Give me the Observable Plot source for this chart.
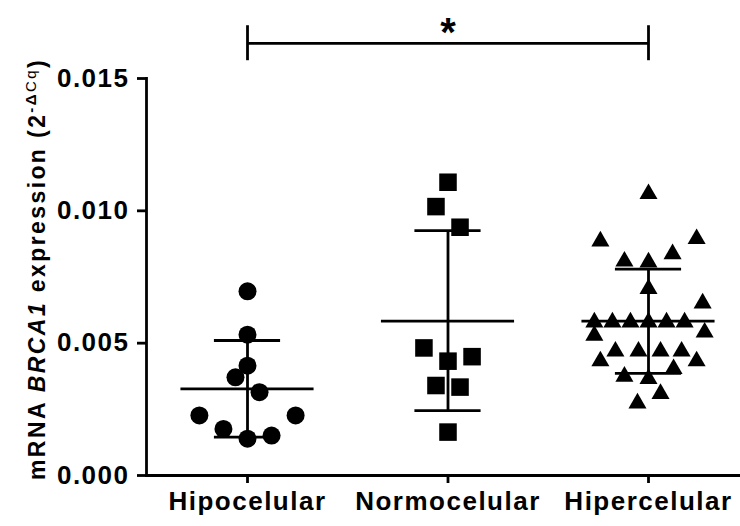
<!DOCTYPE html>
<html><head><meta charset="utf-8">
<script src="https://cdn.jsdelivr.net/npm/d3@7"></script>
<script src="https://cdn.jsdelivr.net/npm/@observablehq/plot@0.6"></script>
<style>
body{margin:0;background:#fff}
#chart svg{display:block}
</style></head><body><div id="chart"></div>
<script>
// ---- data ----
const categories = ["Hipocelular", "Normocelular", "Hipercelular"];
const hipoValues = [0.00696, 0.00532, 0.00415, 0.00371, 0.00315, 0.00227, 0.00227, 0.00176, 0.00139, 0.00151];
const hipoSpread = [0, 0, 0, -0.06, 0.06, -0.24, 0.24, -0.12, 0, 0.12];
const normoValues = [0.01108, 0.01016, 0.00938, 0.00482, 0.00449, 0.00432, 0.00340, 0.00334, 0.00164];
const normoSpread = [0, -0.06, 0.06, -0.12, 0.12, 0, -0.06, 0.06, 0];
const hiperValues = [0.01064, 0.00885, 0.00894, 0.00837, 0.00809, 0.00806, 0.00705, 0.00651,
  0.00579, 0.00579, 0.00579, 0.00579, 0.00579, 0.00579, 0.00541, 0.00529,
  0.00469, 0.00469, 0.00469, 0.00469, 0.00432, 0.00432, 0.00403, 0.00374, 0.00365, 0.00309, 0.00273];
const hiperSpread = [0, -0.24, 0.24, 0.12, -0.12, 0, 0, 0.27,
  -0.27, -0.18, -0.09, 0, 0.09, 0.18, 0.28, -0.27,
  -0.165, -0.05, 0.06, 0.165, -0.24, 0.24, 0.125, -0.12, 0, 0.06, -0.055];
const means = [0.00327, 0.00583, 0.00583];
const sdLow = [0.00145, 0.00245, 0.00386];
const sdHigh = [0.00510, 0.00925, 0.00780];
const yTicks = [0, 0.005, 0.010, 0.015];
const significance = "*";

// ---- tables ----
const toPoints = (vals, spread, g) => vals.map((v, k) => ({x: g + spread[k], v}));
const hipo = toPoints(hipoValues, hipoSpread, 0);
const normo = toPoints(normoValues, normoSpread, 1);
const hiper = toPoints(hiperValues, hiperSpread, 2);
const summary = categories.map((c, i) => ({i, mean: means[i], lo: sdLow[i], hi: sdHigh[i]}));

const SW = 2.8;
const meanHalf = 0.332, capHalf = 0.165;
const bracketY = 0.016326, bracketLo = 0.015672, bracketHi = 0.016994, starY = 0.01672;

const chart = Plot.plot({
  width: 740,
  height: 526,
  marginLeft: 146,
  marginRight: 0,
  marginTop: 78,
  marginBottom: 51,
  style: {fontFamily: "'Liberation Sans', Arial, sans-serif", fontWeight: "bold", background: "#fff", color: "#000"},
  x: {type: "linear", domain: [0, 2], range: [247, 648]},
  y: {domain: [0, 0.015], range: [475, 78]},
  marks: [
    Plot.frame({anchor: "left", strokeWidth: SW}),
    Plot.ruleY([0], {strokeWidth: SW}),
    Plot.axisY({ticks: yTicks, tickFormat: d3.format(".3f"), tickSize: 9, tickPadding: 8,
      fontSize: 26, fontWeight: "bold", strokeWidth: SW, label: null}),
    Plot.axisX({ticks: [0, 1, 2], tickFormat: i => categories[i], tickSize: 8, tickPadding: 8,
      fontSize: 26, fontWeight: "bold", strokeWidth: SW, label: null}),
    Plot.dot(hipo, {x: "x", y: "v", symbol: "circle", r: 9, fill: "black"}),
    Plot.dot(normo, {x: "x", y: "v", symbol: "square", r: 9.9, fill: "black"}),
    Plot.dot(hiper, {x: "x", y: "v", symbol: "triangle", r: 6.7, fill: "black"}),
    Plot.ruleX(summary, {x: "i", y1: "lo", y2: "hi", strokeWidth: SW}),
    Plot.ruleY(summary, {x1: d => d.i - meanHalf, x2: d => d.i + meanHalf, y: "mean", strokeWidth: SW}),
    Plot.ruleY(summary, {x1: d => d.i - capHalf, x2: d => d.i + capHalf, y: "lo", strokeWidth: SW}),
    Plot.ruleY(summary, {x1: d => d.i - capHalf, x2: d => d.i + capHalf, y: "hi", strokeWidth: SW}),
    // significance bracket between first and last group
    Plot.ruleY([bracketY], {x1: 0, x2: 2, strokeWidth: SW}),
    Plot.ruleX([0, 2], {x: d => d, y1: bracketLo, y2: bracketHi, strokeWidth: SW}),
    Plot.text([significance], {x: () => 1, y: () => starY, text: d => d, fontSize: 40, fontWeight: "bold"})
  ]
});

const svg = d3.select(chart);
svg.selectAll('g[aria-label="x-axis tick label"] text, g[aria-label="y-axis tick label"] text')
  .style("letter-spacing", "1.5px");

// y-axis title with italic gene name and superscript
const t = svg.append("text")
  .attr("transform", "translate(44.5,269) rotate(-90)")
  .attr("text-anchor", "middle")
  .attr("font-size", 23)
  .attr("font-weight", "bold")
  .attr("fill", "black")
  .style("letter-spacing", "2.4px");
t.append("tspan").text("mRNA ");
t.append("tspan").attr("font-style", "italic").text("BRCA1");
t.append("tspan").text(" expression (2");
t.append("tspan").attr("font-size", 15).attr("dy", -9).text("-\u0394");
t.append("tspan").attr("font-size", 15).attr("font-weight", "normal").text("Cq");
t.append("tspan").attr("dy", 9).text(")");

document.getElementById("chart").appendChild(chart);
</script>
</body></html>
